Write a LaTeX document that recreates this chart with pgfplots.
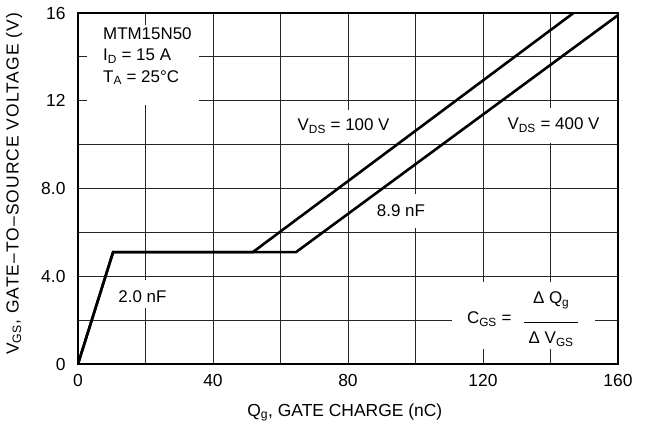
\documentclass[border=0pt]{standalone}
\usepackage{fontspec}
\setmainfont{Liberation Sans}
\usepackage{pgfplots}
\pgfplotsset{compat=1.18}

\newcommand{\lbl}{\fontsize{17}{21.5}\selectfont}
\newcommand{\axlbl}{\fontsize{17.5}{21.5}\selectfont}

\begin{document}
\begin{tikzpicture}
\begin{axis}[
    scale only axis,
    width=540bp, height=351bp,
    xmin=0, xmax=160, ymin=0, ymax=16,
    xtick={0,40,...,160},
    minor xtick={20,60,100,140},
    ytick={0,4,8,12,16},
    yticklabels={0,4.0,8.0,12,16},
    minor ytick={2,6,10,14},
    grid=both,
    major grid style={black!85, line width=0.85bp},
    minor grid style={black!85, line width=0.85bp},
    major tick length=0pt, minor tick length=0pt,
    axis line style={line width=1.2bp},
    /pgf/number format/assume math mode=true,
    tick label style={font=\axlbl},
    xticklabel style={yshift=-7bp},
    yticklabel style={xshift=-9bp},
    xlabel={Q\textsubscript{g}, GATE CHARGE (nC)},
    xlabel style={font=\axlbl, at={(axis description cs:0.494,0)}, anchor=base, yshift=-52bp},
    ylabel={V\textsubscript{GS}, GATE--TO--SOURCE VOLTAGE (V)},
    ylabel style={font=\axlbl\addfontfeatures{LetterSpace=6}, at={(axis description cs:-0.1185,0.513)}, anchor=center},
]
% white boxes that break the grid behind the notes
\fill[white] (axis cs:2.7,11.8) rectangle (axis cs:35.9,15.45);
\fill[white] (axis cs:64,10.06) rectangle (axis cs:93,11.58);
\fill[white] (axis cs:126,10.06) rectangle (axis cs:155,11.67);
\fill[white] (axis cs:88,6.2) rectangle (axis cs:103,7.75);
\fill[white] (axis cs:12,2.55) rectangle (axis cs:27,3.83);
\fill[white] (axis cs:110.8,0.68) rectangle (axis cs:153.2,3.74);

\addplot[black, line width=2.6bp, no markers, line join=miter]
    coordinates {(0,0) (10.4,5.1) (51.8,5.1) (146.8,16.0)};
\addplot[black, line width=2.6bp, no markers, line join=miter]
    coordinates {(0,0) (10.4,5.1) (64.6,5.1) (160,15.9)};

\node[anchor=north west, align=left, inner sep=0pt, font=\lbl]
    at (axis cs:7.4,15.35) {MTM15N50\\I\textsubscript{D} = 15 A\\T\textsubscript{A} = 25°C};
\node[font=\lbl, inner sep=0pt] at (axis cs:78.7,10.85) {V\textsubscript{DS} = 100 V};
\node[font=\lbl, inner sep=0pt] at (axis cs:140.9,10.9) {V\textsubscript{DS} = 400 V};
\node[font=\lbl, inner sep=0pt] at (axis cs:95.7,7.0) {8.9 nF};
\node[font=\lbl, inner sep=0pt] at (axis cs:19.1,3.08) {2.0 nF};
\node[font=\lbl, inner sep=0pt, anchor=east] at (axis cs:128.5,2.05) {C\textsubscript{GS} =};
\node[font=\lbl, inner sep=0pt, align=center] at (axis cs:140.2,2.05)
    {Δ Q\textsubscript{g}\\[-2bp]\rule{54bp}{0.8bp}\\[-1bp]Δ V\textsubscript{GS}};
\end{axis}
% heavier left and bottom spines
\draw[line width=2.6bp] (current axis.south west) -- (current axis.north west);
\draw[line width=1.6bp] (current axis.south west) -- (current axis.south east);
\pgfresetboundingbox
\path ([shift={(-78bp,-61bp)}]current axis.south west) rectangle ++(645bp,425bp);
\end{tikzpicture}
\end{document}
